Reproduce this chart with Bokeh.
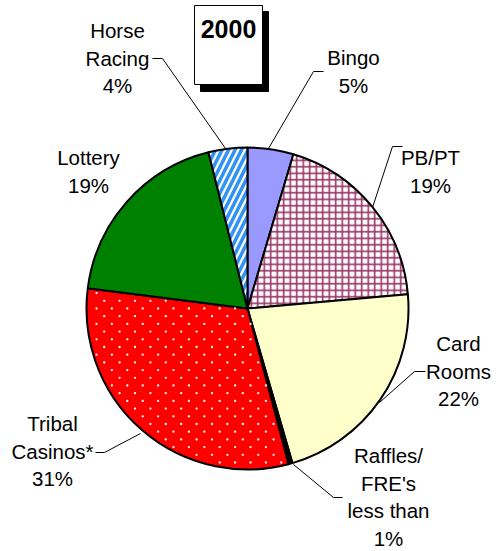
import math
from bokeh.plotting import figure
from bokeh.models import Range1d, ColumnDataSource
from bokeh.core.properties import value
from bokeh.embed import file_html
from bokeh.resources import INLINE

# ---- data (percent of total, clockwise from 12 o'clock) ----
categories = ["Bingo", "PB/PT", "Card Rooms", "Raffles/FRE's", "Tribal Casinos*", "Lottery", "Horse Racing"]
shares = [4.6, 19.0, 21.9, 0.4, 31.1, 19.1, 3.9]
labels = ["Bingo\n5%", "PB/PT\n19%", "Card\nRooms\n22%", "Raffles/\nFRE's\nless than\n1%",
          "Tribal\nCasinos*\n31%", "Lottery\n19%", "Horse\nRacing\n4%"]
year_title = "2000"

# ---- styles ----
fills = ["#9999FF", "#FFFFFF", "#FFFFCC", "#000000", "#FF0000", "#008000", "#FFFFFF"]
hatches = [" ", "+", " ", " ", " ", " ", "/"]
hatch_colors = ["#000000", "#993366", "#000000", "#000000", "#FFFFFF", "#000000", "#3393F5"]
hatch_scales = [6, 6.5, 6, 6, 11, 6, 13]
hatch_weights = [1, 1.6, 1, 1, 1, 1, 3.6]

W, H = 494, 549
def px(xs, ys):
    """screenshot pixel -> data coordinate"""
    return xs, H - ys

p = figure(width=W, height=H, x_range=Range1d(0, W), y_range=Range1d(0, H),
           output_backend="svg", toolbar_location=None, min_border=0,
           x_axis_type=None, y_axis_type=None, outline_line_color=None)
p.grid.visible = False

cx, cy = px(247, 308)
R = 161
total = sum(shares)
starts, ends = [], []
acc = 0.0
for s in shares:
    starts.append(math.pi / 2 - 2 * math.pi * acc / total)
    acc += s
    ends.append(math.pi / 2 - 2 * math.pi * acc / total)

src = ColumnDataSource(dict(x=[cx] * len(shares), y=[cy] * len(shares), start=starts, end=ends,
                            fill=fills, hatch=hatches, hc=hatch_colors, hs=hatch_scales, hw=hatch_weights))
p.wedge(x="x", y="y", radius=R, start_angle="start", end_angle="end", direction="clock",
        fill_color="fill", hatch_pattern="hatch", hatch_color="hc", hatch_scale="hs",
        hatch_weight="hw", line_color="black", line_width=2, source=src)

# decorative staggered white dot texture inside the Tribal Casinos slice
k = categories.index("Tribal Casinos*")
a_hi, a_lo = starts[k], ends[k]          # clockwise: start > end
step = 15.4
dx_, dy_ = [], []
for row in range(-int(R / (step / 2)) - 1, int(R / (step / 2)) + 2):
    yy = cy + row * step / 2
    off = (step / 2) if row % 2 else 0.0
    for col in range(-int(R / step) - 2, int(R / step) + 2):
        xx = cx + col * step + off + 3
        r = math.hypot(xx - cx, yy - cy)
        if r < 4 or r > R - 3:
            continue
        ang = math.atan2(yy - cy, xx - cx)
        while ang > a_hi:
            ang -= 2 * math.pi
        while ang < a_lo:
            ang += 2 * math.pi
        if a_lo + 0.02 < ang < a_hi - 0.02:
            dx_.append(xx); dy_.append(yy)
p.scatter(dx_, dy_, marker="circle", size=2.3, fill_color="white", line_color=None)

# ---- labels ----
label_anchor = [(353, 57), (430, 157), (458, 343), (388, 455), (52, 423), (88, 157), (117, 30)]
line_gap = 27.5
tx, ty, tt = [], [], []
for lab, (ax, ay) in zip(labels, label_anchor):
    for i, line in enumerate(lab.split("\n")):
        x, y = px(ax, ay + i * line_gap)
        tx.append(x); ty.append(y); tt.append(line)
p.text(x=tx, y=ty, text=tt, text_font=value("Liberation Sans"), text_font_size="20.5px",
       text_align="center", text_baseline="middle", text_color="black")

# ---- leader lines ----
leaders = [
    [(268, 148), (313, 71), (323, 71)],
    [(372, 207), (392, 146), (402, 146)],
    [(379, 402), (414, 371), (425, 371)],
    [(293, 464), (333, 497), (342, 497)],
    [(140, 433), (104, 452), (95, 452)],
    [(225, 148), (162, 58), (152, 58)],
]
for seg in leaders:
    pts = [px(a, b) for a, b in seg]
    p.line([q[0] for q in pts], [q[1] for q in pts], line_color="black", line_width=1)

# ---- title box with shadow ----
l, t = px(200, 11); r, b = px(268, 91)
p.quad(left=l, right=r, top=t, bottom=b, fill_color="black", line_color="black")
l, t = px(194, 5); r, b = px(262, 84)
p.quad(left=l, right=r, top=t, bottom=b, fill_color="white", line_color="black", line_width=1)
x, y = px(228, 28)
p.text(x=[x], y=[y], text=[year_title], text_font=value("Liberation Sans"), text_font_size="25px",
       text_font_style="bold", text_align="center", text_baseline="middle", text_color="black")

open("out.html", "w").write(file_html(p, INLINE))
